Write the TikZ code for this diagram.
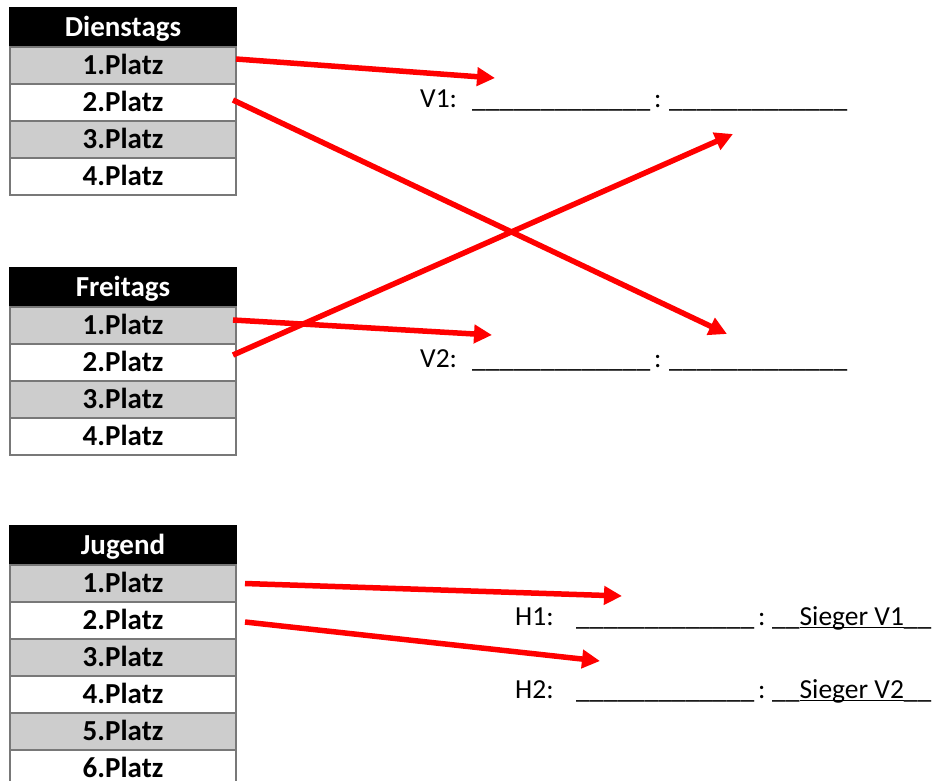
\documentclass[tikz,border=0pt]{standalone}
\usepackage{fontspec}
\setmainfont{Carlito}
\usetikzlibrary{positioning, calc, arrows.meta}

\definecolor{zellgrau}{RGB}{205,205,205}
\definecolor{rahmengrau}{RGB}{120,120,120}

\newcommand{\luecke}{\_\_\_\_\_\_\_\_\_\_\_\_\_}
\newcommand{\sieger}[1]{\setbox0\hbox{#1}\rlap{\copy0}\rule[-0.125em]{\wd0}{0.06em}}

\tikzset{
    zelle/.style={draw=rahmengrau, line width=2pt, minimum width=226pt, minimum height=37pt,
        inner sep=0pt, outer sep=0pt, text height=17pt, text depth=0pt,
        font=\fontsize{29}{34}\selectfont\bfseries},
    kopf/.style={zelle, draw=black, fill=black, text=white, minimum height=39pt},
    grau/.style={zelle, fill=zellgrau},
    weiss/.style={zelle, fill=white},
    pfeil/.style={draw=red, line width=5.5pt, -{Triangle[length=18pt,width=18pt]}},
    eintrag/.style={anchor=base west, inner sep=0pt, font=\fontsize{27.5}{33}\selectfont},
}

\begin{document}
\begin{tikzpicture}[x=1pt, y=-1pt]
                \useasboundingbox (0,0) rectangle (935,780);
                % Dienstags
                \node[kopf, anchor=north west] (dkopf) at (10,8) {Dienstags};
                \node[grau, below=0pt of dkopf] (d1) {1.Platz};
                \node[weiss, below=0pt of d1] (d2) {2.Platz};
                \node[grau, below=0pt of d2] (d3) {3.Platz};
                \node[weiss, below=0pt of d3] (d4) {4.Platz};
                % Freitags
                \node[kopf, anchor=north west] (fkopf) at (10,268) {Freitags};
                \node[grau, below=0pt of fkopf] (f1) {1.Platz};
                \node[weiss, below=0pt of f1] (f2) {2.Platz};
                \node[grau, below=0pt of f2] (f3) {3.Platz};
                \node[weiss, below=0pt of f3] (f4) {4.Platz};
                % Jugend
                \node[kopf, anchor=north west] (jkopf) at (10,526) {Jugend};
                \node[grau, below=0pt of jkopf] (j1) {1.Platz};
                \node[weiss, below=0pt of j1] (j2) {2.Platz};
                \node[grau, below=0pt of j2] (j3) {3.Platz};
                \node[weiss, below=0pt of j3] (j4) {4.Platz};
                \node[grau, below=0pt of j4] (j5) {5.Platz};
                \node[weiss, below=0pt of j5] (j6) {6.Platz};

                % Spiele
                \node[eintrag] (v1) at (420,107) {V1:};
                \node[eintrag] (v1a) at (472,107) {\luecke};
                \node[eintrag] (v1dp) at (654,107) {:};
                \node[eintrag] (v1b) at (669,107) {\luecke};
                \node[eintrag] (v2) at (420,367) {V2:};
                \node[eintrag] (v2a) at (472,367) {\luecke};
                \node[eintrag] (v2dp) at (654,367) {:};
                \node[eintrag] (v2b) at (669,367) {\luecke};
                \node[eintrag] (h1) at (515,625) {H1:};
                \node[eintrag] (h1a) at (576,625) {\luecke};
                \node[eintrag] (h1dp) at (758,625) {:};
                \node[eintrag] (h1b) at (772,625) {\_\_\sieger{Sieger V1}\_\_};
                \node[eintrag] (h2) at (515,698) {H2:};
                \node[eintrag] (h2a) at (576,698) {\luecke};
                \node[eintrag] (h2dp) at (758,698) {:};
                \node[eintrag] (h2b) at (772,698) {\_\_\sieger{Sieger V2}\_\_};

                \coordinate (v1links) at (495,78);
                \coordinate (v1rechts) at (733,134);
                \coordinate (v2links) at (492,335);
                \coordinate (v2rechts) at (727,334);
                \coordinate (h1links) at (622,596);
                \coordinate (h2links) at (600,661);

                \draw[pfeil] ([yshift=6.5pt]d1.east) -- (v1links);
                \draw[pfeil] ([xshift=-3pt,yshift=2.5pt]d2.east) -- (v2rechts);
                \draw[pfeil] ([xshift=-3pt,yshift=7.5pt]f2.east) -- (v1rechts);
                \draw[pfeil] ([xshift=-3pt,yshift=5.5pt]f1.east) -- (v2links);
                \draw[pfeil] ([xshift=9pt]j1.east) -- (h1links);
                \draw[pfeil] ([xshift=9pt,yshift=-1.5pt]j2.east) -- (h2links);
\end{tikzpicture}
\end{document}
